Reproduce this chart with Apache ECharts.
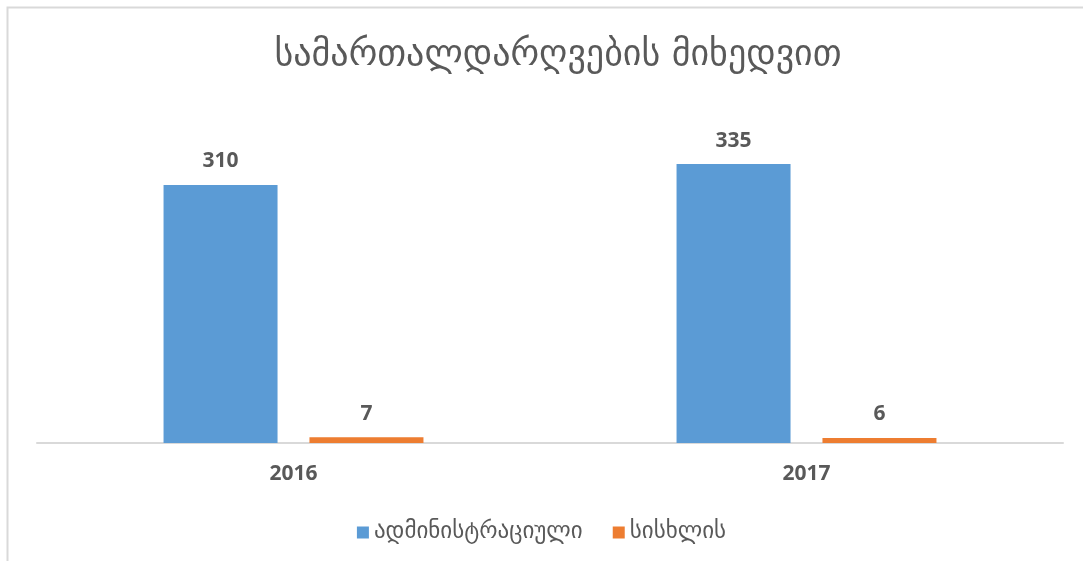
<!DOCTYPE html>
<html>
<head>
<meta charset="utf-8">
<script src="https://cdn.jsdelivr.net/npm/echarts@6/dist/echarts.min.js"></script>
<style>
  html, body { margin: 0; padding: 0; background: #fff; }
  #chart { width: 1083px; height: 561px; }
</style>
</head>
<body>
<div id="chart"></div>
<script>
const years = ['2016', '2017'];
const adminValues = [310, 335];
const criminalValues = [7, 6];
const seriesNames = ['ადმინისტრაციული', 'სისხლის'];
const titleText = 'სამართალდარღვების მიხედვით';

const textColor = '#595959';
const geoFont = '"DejaVu Sans", "Noto Sans", sans-serif';
const numFont = '"Open Sans", "Noto Sans", sans-serif';

const chart = echarts.init(document.getElementById('chart'), null, { renderer: 'canvas' });

const labelStyle = {
  show: true,
  position: 'top',
  distance: 13,
  color: textColor,
  fontFamily: numFont,
  fontWeight: 'bold',
  fontSize: 21
};

const option = {
  backgroundColor: '#fff',
  animation: false,
  graphic: [{
    type: 'rect',
    shape: { x: 7.5, y: 7.5, width: 1100, height: 600 },
    style: { fill: 'none', stroke: '#d9d9d9', lineWidth: 2 },
    silent: true
  }],
  title: {
    text: titleText,
    left: 553,
    textAlign: 'center',
    top: 33,
    textStyle: {
      color: textColor,
      fontFamily: geoFont,
      fontWeight: 'normal',
      fontSize: 36
    }
  },
  legend: {
    data: seriesNames,
    left: 'center',
    top: 516,
    itemWidth: 12,
    itemHeight: 12,
    itemGap: 30,
    icon: 'rect',
    textStyle: {
      color: textColor,
      fontFamily: geoFont,
      fontSize: 23
    }
  },
  grid: {
    left: 37,
    right: 20,
    top: 110,
    bottom: 118,
    containLabel: false
  },
  xAxis: {
    type: 'category',
    data: years,
    axisTick: { show: false },
    axisLine: { lineStyle: { color: '#d9d9d9', width: 2 } },
    axisLabel: {
      color: textColor,
      fontFamily: numFont,
      fontWeight: 'bold',
      fontSize: 21,
      margin: 21
    }
  },
  yAxis: {
    type: 'value',
    min: 0,
    max: 400,
    show: false,
    splitLine: { show: false }
  },
  series: [{
      name: seriesNames[0],
      type: 'bar',
      data: adminValues,
      barWidth: 114,
      barGap: '28%',
      itemStyle: { color: '#5b9bd5' },
      label: labelStyle
    },
    {
      name: seriesNames[1],
      type: 'bar',
      data: criminalValues,
      barWidth: 114,
      barGap: '28%',
      itemStyle: { color: '#ed7d31' },
      label: labelStyle
    }
  ]
};

chart.setOption(option);
</script>
</body>
</html>
